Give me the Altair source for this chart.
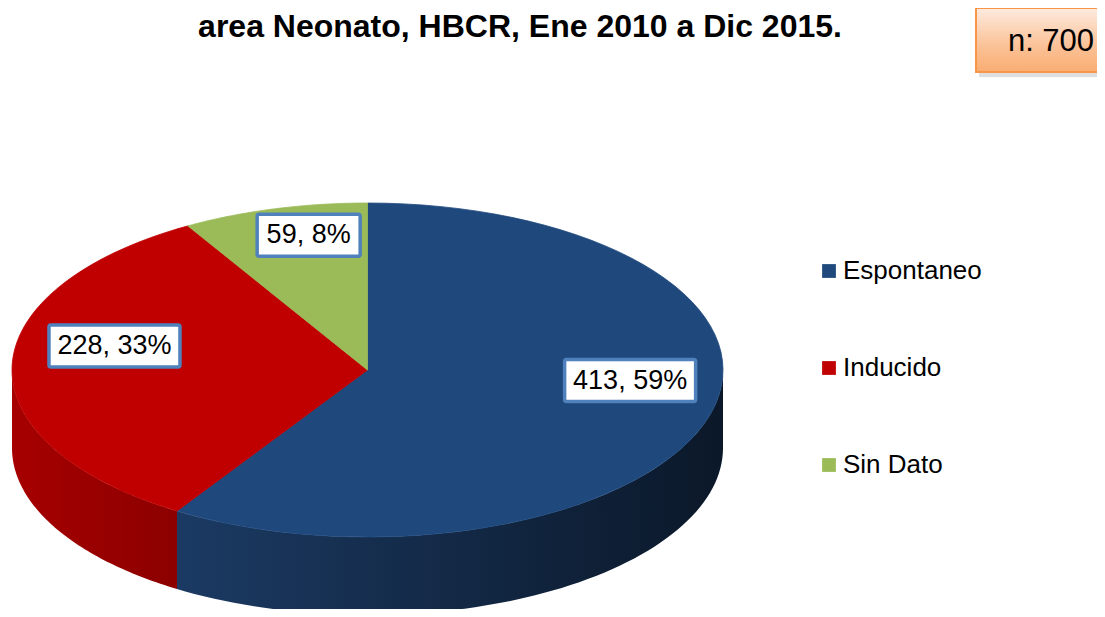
import altair as alt
import pandas as pd

# ---- data ----
categories = ["Espontaneo", "Inducido", "Sin Dato"]
counts = [413, 228, 59]
top_colors = ["#1F497D", "#C00000", "#9BBB59"]
side_left = ["#1b3a63", "#a60000", "#83a04a"]
side_right = ["#0b1829", "#8c0000", "#6c8540"]
title_text = "area Neonato, HBCR, Ene 2010 a Dic 2015."
n_text = "n: 700"

# ---- layout (plot-area pixels) ----
W, H = 1089, 601
CX, CY, RX, RY, DEPTH = 359.5, 362.0, 355.5, 167.0, 78.0
N = 72
LFX, LFY, LDX, LDY = 0.74, 0.70, 10, -22

df = pd.DataFrame({"category": categories, "count": counts,
                   "order": list(range(len(categories)))})

xs = alt.Scale(domain=[0, W], nice=False, zero=False)
ys = alt.Scale(domain=[0, H], nice=False, zero=False, reverse=True)
cscale = alt.Scale(domain=categories, range=top_colors)

base = (
    alt.Chart(df)
    .transform_joinaggregate(total="sum(count)")
    .transform_window(cum="sum(count)", sort=[alt.SortField("order")], frame=[None, 0])
    .transform_calculate(a0="2*PI*(datum.cum - datum.count)/datum.total")
    .transform_calculate(a1="2*PI*datum.cum/datum.total")
)

# ---- side (3D extrusion) faces, one layer per slice for its gradient ----
sides = []
for i, cat in enumerate(categories):
    s = (
        base.transform_filter(alt.datum.category == cat)
        .transform_calculate(s0="max(datum.a0, PI/2)")
        .transform_calculate(s1="min(datum.a1, 3*PI/2)")
        .transform_filter("datum.s1 > datum.s0")
        .transform_calculate(k=f"sequence(0, {2 * N})")
        .transform_flatten(["k"])
        .transform_calculate(
            ang=f"datum.k < {N} ? datum.s0 + (datum.s1 - datum.s0) * datum.k / {N - 1}"
                f" : datum.s1 - (datum.s1 - datum.s0) * (datum.k - {N}) / {N - 1}")
        .transform_calculate(px=f"{CX} + {RX} * sin(datum.ang)")
        .transform_calculate(py=f"{CY} - {RY} * cos(datum.ang) + (datum.k < {N} ? 0 : {DEPTH})")
        .mark_line(
            interpolate="linear-closed", filled=True, strokeWidth=0,
            fill=alt.Gradient(gradient="linear", x1=0, y1=0, x2=1, y2=0,
                              stops=[alt.GradientStop(color=side_left[i], offset=0),
                                     alt.GradientStop(color=side_right[i], offset=1)]))
        .encode(x=alt.X("px:Q", scale=xs, axis=None),
                y=alt.Y("py:Q", scale=ys, axis=None),
                order="k:Q")
    )
    sides.append(s)

# ---- top faces (elliptical wedges) ----
top = (
    base.transform_calculate(k=f"sequence(0, {N + 1})")
    .transform_flatten(["k"])
    .transform_calculate(ang=f"datum.a0 + (datum.a1 - datum.a0) * (datum.k - 1) / {N - 1}")
    .transform_calculate(px=f"datum.k == 0 ? {CX} : {CX} + {RX} * sin(datum.ang)")
    .transform_calculate(py=f"datum.k == 0 ? {CY} : {CY} - {RY} * cos(datum.ang)")
    .mark_line(interpolate="linear-closed", filled=True, strokeWidth=0.8)
    .encode(
        x=alt.X("px:Q", scale=xs, axis=None),
        y=alt.Y("py:Q", scale=ys, axis=None),
        color=alt.Color("category:N", scale=cscale,
                        legend=alt.Legend(title=None, orient="none", legendX=808, legendY=250,
                                          padding=0, symbolType="square", symbolSize=190,
                                          symbolStrokeWidth=0, labelFont="Liberation Sans",
                                          labelFontSize=26, labelColor="black",
                                          labelOffset=1, rowPadding=71, symbolOpacity=1)),
        stroke=alt.Stroke("category:N", scale=cscale, legend=None),
        detail="category:N",
        order="k:Q",
    )
)

# ---- data labels in boxes ----
lab = (
    base.transform_calculate(mid="(datum.a0 + datum.a1) / 2")
    .transform_calculate(label="datum.count + ', ' + round(100 * datum.count / datum.total) + '%'")
    .transform_calculate(lx=f"{CX} + {LFX * RX} * sin(datum.mid) + ({LDX})")
    .transform_calculate(ly=f"{CY} - {LFY * RY} * cos(datum.mid) + ({LDY})")
    .transform_calculate(hw="(14 * length(datum.label) + 19) / 2")
    .transform_calculate(bx0="datum.lx - datum.hw", bx1="datum.lx + datum.hw",
                         by0="datum.ly - 21", by1="datum.ly + 21")
)
boxes = lab.mark_rect(fill="white", stroke="#4F81BD", strokeWidth=3.5, cornerRadius=2).encode(
    x=alt.X("bx0:Q", scale=xs, axis=None), x2="bx1:Q",
    y=alt.Y("by0:Q", scale=ys, axis=None), y2="by1:Q")
texts = lab.mark_text(font="Liberation Sans", fontSize=27, color="black",
                      baseline="middle", align="center").encode(
    x=alt.X("lx:Q", scale=xs, axis=None), y=alt.Y("ly:Q", scale=ys, axis=None), text="label:N")

# ---- title line ----
title = alt.Chart(pd.DataFrame({"t": [title_text]})).mark_text(
    font="Liberation Sans", fontSize=32, fontWeight="bold", color="black",
    align="center", baseline="alphabetic").encode(
    text="t:N", x=alt.value(512), y=alt.value(29))

# ---- n box ----
nd = pd.DataFrame({"t": [n_text]})
shadow = alt.Chart(nd).mark_rect(fill="#7f7f7f", opacity=0.25).encode(
    x=alt.value(971), x2=alt.value(1100), y=alt.value(4), y2=alt.value(69))
nbox = alt.Chart(nd).mark_rect(
    stroke="#F79646", strokeWidth=2,
    fill=alt.Gradient(gradient="linear", x1=0, y1=0, x2=0, y2=1,
                      stops=[alt.GradientStop(color="#fdebdf", offset=0),
                             alt.GradientStop(color="#fbc196", offset=0.6),
                             alt.GradientStop(color="#f9ad72", offset=1)])).encode(
    x=alt.value(968), x2=alt.value(1100), y=alt.value(0), y2=alt.value(64))
ntext = alt.Chart(nd).mark_text(font="Liberation Sans", fontSize=31, color="black",
                                align="center", baseline="alphabetic").encode(
    text="t:N", x=alt.value(1043), y=alt.value(43))

chart = alt.layer(*sides, top, boxes, texts, title, shadow, nbox, ntext).properties(
    width=W, height=H, padding=0, autosize=alt.AutoSizeParams(type="none")
).configure_view(stroke=None)

chart.save("out.html", embed_options={"renderer": "svg", "actions": False})
